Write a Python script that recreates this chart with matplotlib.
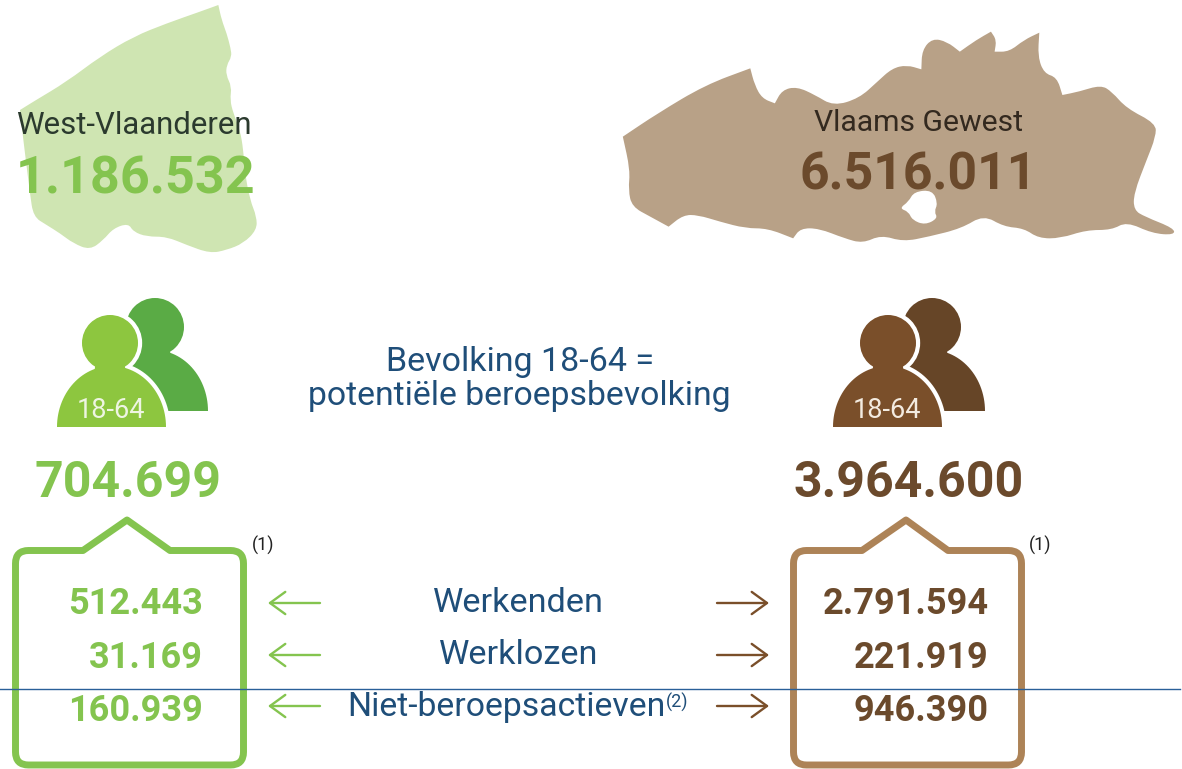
import matplotlib
matplotlib.use('Agg')
import matplotlib.pyplot as plt
import numpy as np
from matplotlib.path import Path
from matplotlib.patches import PathPatch, Circle, Polygon

plt.rcParams['font.family'] = ['Roboto', 'DejaVu Sans']

# values as printed
region_names = ['West-Vlaanderen', 'Vlaams Gewest']
region_totals = ['1.186.532', '6.516.011']
pop_1864 = ['704.699', '3.964.600']
row_labels = ['Werkenden', 'Werklozen', 'Niet-beroepsactieven']
west_rows = ['512.443', '31.169', '160.939']
vlaams_rows = ['2.791.594', '221.919', '946.390']
age_label = '18-64'
center_lines = ['Bevolking 18-64 =', 'potentiële beroepsbevolking']

green_map = '#CFE5B2'
green_num = '#84C44F'
green_front = '#8DC63F'
green_back = '#5AAB45'
tan_map = '#B8A187'
brown_num = '#6B4A2C'
brown_front = '#7A4F2A'
brown_back = '#664527'
brown_box = '#AD8357'
blue = '#1F4E79'

# outlines
west_outline = np.array([(655,15),(655,15),(665,60),(680,100),(692,145),(695,170),(680,195),(678,225),(695,260),
    (690,300),(700,340),(720,390),(730,450),(735,520),(750,600),(770,650),(770,690),(730,730),(680,750),
    (630,760),(560,735),(500,710),(440,710),(400,695),(385,670),(340,685),(310,720),(270,750),(220,730),
    (180,700),(140,675),(100,650),(90,580),(80,500),(70,420),(60,330),(60,330),(100,305),(200,245),(300,170),
    (400,110),(500,70),(600,35),(655,15)]) / 3.0

fl = np.array([(35,350),(35,350),(130,280),(260,195),(383,145),(383,145),(395,195),(415,235),(450,250),(450,250),(470,210),(510,200),
    (560,225),(610,258),(680,235),(730,185),(770,145),(810,135),(850,148),(850,148),(852,90),(880,55),(920,65),
    (955,95),(955,95),(1000,60),(1040,35),(1040,35),(1055,60),(1050,95),(1050,95),(1090,95),(1130,60),(1172,38),(1172,38),(1168,110),(1185,160),
    (1220,172),(1235,225),(1235,225),(1280,215),(1340,195),(1370,215),(1410,265),(1490,310),(1490,350),(1465,420),
    (1430,520),(1430,570),(1460,590),(1540,625),(1540,645),(1480,640),(1410,605),(1370,630),(1300,630),
    (1230,655),(1170,655),(1130,625),(1075,620),(1020,585),(960,625),(870,650),(800,665),(740,645),
    (690,670),(640,655),(570,625),(520,625),(500,655),(500,655),(430,625),(370,625),(300,605),(240,585),(200,585),
    (160,620),(160,620),(110,590),(60,560),(50,510),(55,450),(35,350)], dtype=float)
# reversed so it fills as a hole
fl_hole = np.array([(830,515),(815,545),(790,565),(815,575),(825,600),(860,615),(895,595),(885,575),
    (895,550),(880,510),(830,515)], dtype=float)
for arr in (fl, fl_hole):
    arr[:, 0] = arr[:, 0] / 2.73 + 610
    arr[:, 1] = arr[:, 1] / 3 + 20


def smooth(pts):
    # closed quadratic curve through the midpoints
    mids = (pts[:-1] + pts[1:]) / 2
    verts = [mids[0]]
    codes = [Path.MOVETO]
    for i in range(1, len(mids)):
        verts += [pts[i], mids[i]]
        codes += [Path.CURVE3, Path.CURVE3]
    verts += [pts[-1], mids[0]]
    codes += [Path.CURVE3, Path.CURVE3]
    return verts, codes


def person(ax, hx, hy, r, bx, rx, top, bottom, color, edge=None):
    t = np.linspace(np.pi, 0, 60)
    dome = np.column_stack([bx + rx * np.cos(t), bottom - (bottom - top) * np.sin(t)])
    neck = [(hx - 14, hy + 15), (hx + 14, hy + 15), (hx + 16, top + 10), (hx - 16, top + 10)]
    if edge:
        ax.add_patch(Polygon(dome, closed=True, fc=edge, ec=edge, lw=6))
        ax.add_patch(Circle((hx, hy), r, fc=edge, ec=edge, lw=6))
    ax.add_patch(Polygon(dome, closed=True, fc=color, ec='none'))
    ax.add_patch(Polygon(neck, closed=True, fc=color, ec='none'))
    ax.add_patch(Circle((hx, hy), r, fc=color, ec='none'))


def box(ax, x0, x1, px, s0, s1, color):
    top, bottom, peak, c = 550.5, 765, 520, 13
    verts = [(x0 + c, top), (s0, top), (px, peak), (s1, top), (x1 - c, top), (x1, top), (x1, top + c),
             (x1, bottom - c), (x1, bottom), (x1 - c, bottom), (x0 + c, bottom), (x0, bottom),
             (x0, bottom - c), (x0, top + c), (x0, top), (x0 + c, top), (x0 + c, top)]
    codes = [Path.MOVETO, Path.LINETO, Path.LINETO, Path.LINETO, Path.LINETO, Path.CURVE3, Path.CURVE3,
             Path.LINETO, Path.CURVE3, Path.CURVE3, Path.LINETO, Path.CURVE3, Path.CURVE3,
             Path.LINETO, Path.CURVE3, Path.CURVE3, Path.CLOSEPOLY]
    ax.add_patch(PathPatch(Path(verts, codes), fc='none', ec=color, lw=5, joinstyle='round'))


fig = plt.figure(figsize=(11.82, 7.69), dpi=100)
ax = fig.add_axes([0, 0, 1, 1])
ax.set_xlim(0, 1182)
ax.set_ylim(769, 0)
ax.axis('off')

# maps
v, c = smooth(west_outline)
ax.add_patch(PathPatch(Path(v, c), fc=green_map, ec='none'))
v, c = smooth(fl)
v2, c2 = smooth(fl_hole)
ax.add_patch(PathPatch(Path(v + v2, c + c2), fc=tan_map, ec='none'))

ax.text(16, 134, region_names[0], fontsize=22.4, color='#2B3A2E', ha='left', va='baseline')
ax.text(16, 193, region_totals[0], fontsize=37.5, fontweight='bold', color=green_num, ha='left', va='baseline')
ax.text(919, 131, region_names[1], fontsize=21.7, color='#33291F', ha='center', va='baseline')
ax.text(918.5, 189, region_totals[1], fontsize=37.3, fontweight='bold', color=brown_num, ha='center', va='baseline')

# people
person(ax, 155, 327, 29, 154, 54, 350, 411, green_back)
person(ax, 110, 343, 28, 111.5, 54.5, 366, 427, green_front, edge='white')
person(ax, 932, 327, 29, 931, 54, 350, 411, brown_back)
person(ax, 888, 343, 28, 887.5, 54.5, 366, 427, brown_front, edge='white')
ax.text(111, 418, age_label, fontsize=19.5, color='#EEF5E2', ha='center', va='baseline')
ax.text(887, 418, age_label, fontsize=19.5, color='#F3EBE0', ha='center', va='baseline')

ax.text(519.5, 371, center_lines[0], fontsize=24.5, color=blue, ha='center', va='baseline')
ax.text(519, 405, center_lines[1], fontsize=24.3, color=blue, ha='center', va='baseline')

ax.text(127.5, 497, pop_1864[0], fontsize=36, fontweight='bold', color=green_num, ha='center', va='baseline')
ax.text(909, 497, pop_1864[1], fontsize=36, fontweight='bold', color=brown_num, ha='center', va='baseline')

# boxes
box(ax, 15.5, 243.5, 127, 83, 170, green_num)
box(ax, 793.5, 1021.5, 906, 862, 948, brown_box)
ax.text(252, 551, '(1)', fontsize=13, color='#222222', ha='left', va='baseline')
ax.text(1029, 551, '(1)', fontsize=13, color='#222222', ha='left', va='baseline')

num_base = [614, 668, 721]
label_base = [612, 664, 716]
arrow_y = [603, 655, 706]
head = '->,head_length=1.1,head_width=0.8'
for i in range(3):
    ax.text(203, num_base[i], west_rows[i], fontsize=26, fontweight='bold', color=green_num, ha='right', va='baseline')
    ax.text(988.5, num_base[i], vlaams_rows[i], fontsize=26, fontweight='bold', color=brown_num, ha='right', va='baseline')
    ax.annotate('', xy=(268, arrow_y[i]), xytext=(320, arrow_y[i]),
                arrowprops=dict(arrowstyle=head, color=green_num, lw=1.7, shrinkA=0, shrinkB=0))
    ax.annotate('', xy=(769, arrow_y[i]), xytext=(717, arrow_y[i]),
                arrowprops=dict(arrowstyle=head, color=brown_front, lw=1.7, shrinkA=0, shrinkB=0))

ax.text(518.5, label_base[0], row_labels[0], fontsize=24.7, color=blue, ha='center', va='baseline')
ax.text(518.5, label_base[1], row_labels[1], fontsize=24.7, color=blue, ha='center', va='baseline')
ax.text(347, label_base[2], row_labels[2], fontsize=24.3, color=blue, ha='left', va='baseline')
ax.text(666, 708, '(2)', fontsize=13, color=blue, ha='left', va='baseline')

# thin rule across the page
ax.plot([0, 1180], [689, 689], color='#2A6099', lw=1)

fig.savefig('out.png', dpi=100)
